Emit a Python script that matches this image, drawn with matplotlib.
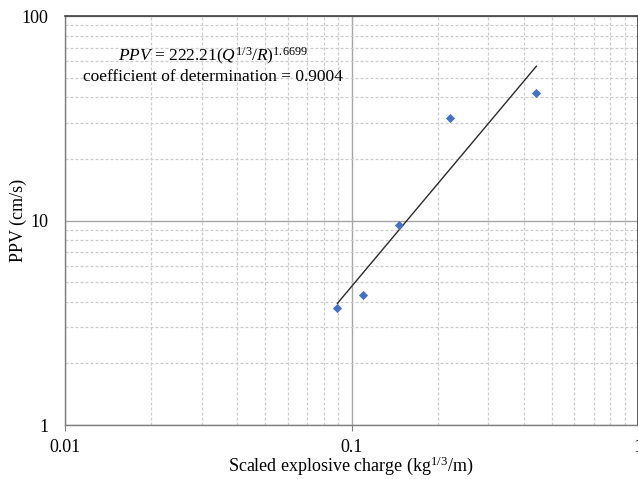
import matplotlib
matplotlib.use("Agg")
import matplotlib.pyplot as plt
import numpy as np
from matplotlib.ticker import FixedLocator, FixedFormatter, LogLocator, NullFormatter

plt.rcParams['font.family'] = ['Liberation Serif', 'DejaVu Serif']
plt.rcParams['mathtext.fontset'] = 'custom'
plt.rcParams['mathtext.rm'] = 'Liberation Serif'
plt.rcParams['mathtext.it'] = 'Liberation Serif:italic'

# Data
scaled_charge = [0.0893, 0.110, 0.147, 0.221, 0.442]
ppv = [3.73, 4.32, 9.5, 31.7, 42.0]
fit_k = 222.21
fit_b = 1.6699
x_ticks = [0.01, 0.1, 1]
x_tick_labels = ["0.01", "0.1", "1"]
y_ticks = [1, 10, 100]
y_tick_labels = ["1", "10", "100"]

fig = plt.figure(figsize=(6.38, 4.79), dpi=100)
ax = fig.add_axes([65/638, 1-425/479, 573/638, (425-16)/479])
ax.set_xscale('log')
ax.set_yscale('log')
ax.set_xlim(0.01, 1)
ax.set_ylim(1, 100)

ax.xaxis.set_major_locator(FixedLocator(x_ticks))
ax.xaxis.set_major_formatter(FixedFormatter(x_tick_labels))
ax.yaxis.set_major_locator(FixedLocator(y_ticks))
ax.yaxis.set_major_formatter(FixedFormatter(y_tick_labels))
ax.xaxis.set_minor_locator(LogLocator(base=10, subs=np.arange(2, 10)))
ax.yaxis.set_minor_locator(LogLocator(base=10, subs=np.arange(2, 10)))
ax.xaxis.set_minor_formatter(NullFormatter())
ax.yaxis.set_minor_formatter(NullFormatter())

ax.grid(which='major', color='#a6a6a6', linestyle='-', linewidth=1.0)
ax.grid(which='minor', color='#cccccc', linestyle=(0, (2.4, 1.6)), linewidth=0.9)
ax.set_axisbelow(True)

ax.tick_params(which='major', direction='out', color='#808080', labelsize=13)
ax.tick_params(which='minor', length=0)
ax.tick_params(axis='x', which='major', length=4, pad=6)
ax.tick_params(axis='y', which='major', length=0, pad=12)

for side in ['left', 'bottom']:
    ax.spines[side].set_color('#7f7f7f')
    ax.spines[side].set_linewidth(1.0)
for side in ['top', 'right']:
    ax.spines[side].set_color('#404040')
    ax.spines[side].set_linewidth(1.2)

xs = np.array(scaled_charge)
xfit = np.array([xs.min(), xs.max()])
yfit = fit_k * xfit ** fit_b
ax.plot(xfit, yfit, color='#2b2b2b', linewidth=1.0, zorder=3)
ax.scatter(scaled_charge, ppv, marker='D', s=22, color='#4472C4', zorder=4,
           linewidths=0)

fig.text(213/638, 1-56/479,
         r'$PPV$ = 222.21($Q^{\mathrm{1/3}}$/$R$)$^{\mathrm{1.6699}}$',
         ha='center', va='center', fontsize=12.5)
fig.text(213/638, 1-77/479, 'coefficient of determination = 0.9004',
         ha='center', va='center', fontsize=12.5)

fig.text(18/638, 1-220/479, 'PPV (cm/s)', rotation=90,
         ha='center', va='center', fontsize=13)
fig.text(351/638, 1-466/479, r'Scaled explosive charge (kg$^{\mathrm{1/3}}$/m)',
         ha='center', va='center', fontsize=13)

fig.savefig('out.png', dpi=100)
